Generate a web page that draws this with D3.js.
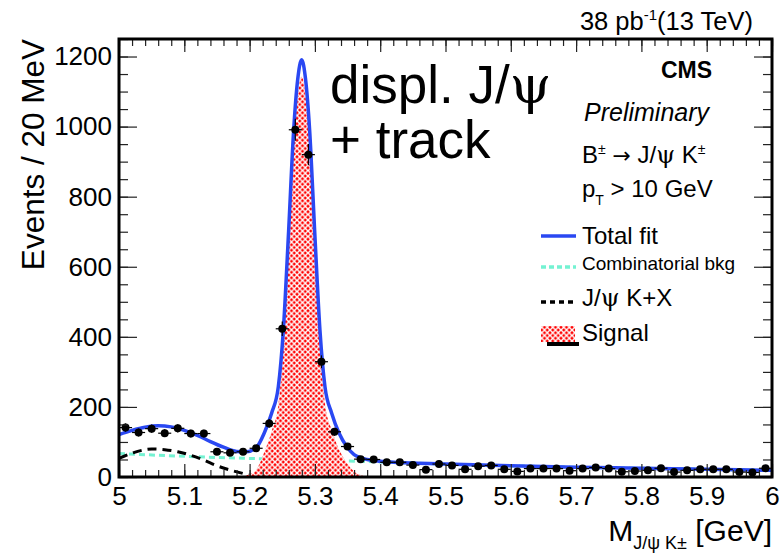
<!DOCTYPE html>
<html>
<head>
<meta charset="utf-8">
<script src="https://cdn.jsdelivr.net/npm/d3@7"></script>
<style>
body { margin: 0; background: #fff; }
text { font-family: "Liberation Sans", Arial, sans-serif; fill: #000; }
.greek { font-family: "DejaVu Serif", "Liberation Serif", serif; }
</style>
</head>
<body>
<div id="chart"></div>
<script>
// data (20 MeV bins)
const binCenters = [5.01,5.03,5.05,5.07,5.09,5.11,5.13,5.15,5.17,5.19,
  5.21,5.23,5.25,5.27,5.29,5.31,5.33,5.35,5.37,5.39,
  5.41,5.43,5.45,5.47,5.49,5.51,5.53,5.55,5.57,5.59,
  5.61,5.63,5.65,5.67,5.69,5.71,5.73,5.75,5.77,5.79,
  5.81,5.83,5.85,5.87,5.89,5.91,5.93,5.95,5.97,5.99];
const counts = [141,127,138,125,139,124,124,72,69,72,
  82,153,423,991,920,329,129,87,51,50,
  42,42,34,21,37,33,22,31,33,22,
  16,24,24,24,18,24,27,24,15,17,
  19,25,14,19,22,22,22,14,13,25];

// fit curves
const totalMass = [5.000,5.020,5.040,5.060,5.080,5.100,5.120,5.140,5.160,5.180,5.195,
  5.2107,5.2223,5.2337,5.2440,5.2517,5.2597,5.2675,5.2737,5.2797,5.2857,5.2919,
  5.2997,5.3077,5.3154,5.3257,5.3371,5.3487,5.360,5.370,5.380,5.400,5.450,5.500,
  5.600,5.700,5.800,5.900,6.000];
const totalVals = [121,133,142,146,143,133,119,101,85,73,72,
  85,125,182,258,420,700,991,1135,1191,1135,991,
  700,420,258,182,125,87,64,55,50,45,40,37,
  32,28,25,22,19];

const combMass = [5.0,5.1,5.2,5.3,5.4,5.5,5.6,5.7,5.8,5.9,6.0];
const combVals = [67,59,53,48,43,37,32,28,25,22,19];

const kxMass = [5.00,5.02,5.04,5.05,5.07,5.09,5.11,5.13,5.15,5.17,5.19,5.20,5.22];
const kxVals = [53,68,78,80,78,72,62,48,32,20,10,5,0];

const sigMass = [5.180,5.200,5.2107,5.2223,5.2337,5.2440,5.2517,5.2597,5.2675,5.2737,
  5.2797,5.2857,5.2919,5.2997,5.3077,5.3154,5.3257,5.3371,5.3487,5.360,5.370,5.380];
const sigVals = [0,8,22,70,130,206,368,648,940,1085,
  1143,1085,940,650,372,210,135,78,41,16,6,0];

const xMajor = [5,5.1,5.2,5.3,5.4,5.5,5.6,5.7,5.8,5.9,6];
const yMajor = [0,200,400,600,800,1000,1200];

const W = 784, H = 555;
const L = 119, R = 772, T = 39, B = 477;

const svg = d3.select('#chart').append('svg')
  .attr('width', W).attr('height', H)
  .style('background', '#fff');

const x = d3.scaleLinear().domain([5, 6]).range([L, R]);
const y = d3.scaleLinear().domain([0, 1250]).range([B, T]);

// hatch pattern for the signal
const pat = svg.append('defs').append('pattern')
  .attr('id', 'hatch')
  .attr('patternUnits', 'userSpaceOnUse')
  .attr('width', 5.5).attr('height', 5.5);
pat.append('rect').attr('width', 5.5).attr('height', 5.5).attr('fill', '#ff0000');
pat.append('path').attr('d', 'M0,0L5.5,5.5M5.5,0L0,5.5')
  .attr('stroke', '#fff').attr('stroke-width', 1.4);

svg.append('clipPath').attr('id', 'frame')
  .append('rect').attr('x', L).attr('y', T).attr('width', R - L).attr('height', B - T);

const plot = svg.append('g').attr('clip-path', 'url(#frame)');

const line = d3.line().x(d => x(d[0])).y(d => y(d[1])).curve(d3.curveMonotoneX);

// combinatorial background
plot.append('path')
  .attr('d', line(d3.zip(combMass, combVals)))
  .attr('fill', 'none').attr('stroke', '#74f2d2')
  .attr('stroke-width', 3).attr('stroke-dasharray', '6,4');

// J/psi K + X
plot.append('path')
  .attr('d', line(d3.zip(kxMass, kxVals)))
  .attr('fill', 'none').attr('stroke', '#000')
  .attr('stroke-width', 3).attr('stroke-dasharray', '9,6');

// signal
const area = d3.area().x(d => x(d[0])).y0(y(0)).y1(d => y(d[1])).curve(d3.curveMonotoneX);
plot.append('path')
  .attr('d', area(d3.zip(sigMass, sigVals)))
  .attr('fill', 'url(#hatch)');

// total fit
plot.append('path')
  .attr('d', line(d3.zip(totalMass, totalVals)))
  .attr('fill', 'none').attr('stroke', '#2a48f2')
  .attr('stroke-width', 3.5);

// data points
const pts = plot.append('g').selectAll('g')
  .data(d3.zip(binCenters, counts))
  .enter().append('g');
pts.append('line')
  .attr('x1', d => x(d[0] - 0.01)).attr('x2', d => x(d[0] + 0.01))
  .attr('y1', d => y(d[1])).attr('y2', d => y(d[1]))
  .attr('stroke', '#000').attr('stroke-width', 1.2);
pts.append('line')
  .attr('x1', d => x(d[0])).attr('x2', d => x(d[0]))
  .attr('y1', d => y(d[1] - Math.sqrt(d[1]))).attr('y2', d => y(d[1] + Math.sqrt(d[1])))
  .attr('stroke', '#000').attr('stroke-width', 1.2);
pts.append('circle')
  .attr('cx', d => x(d[0])).attr('cy', d => y(d[1]))
  .attr('r', 4).attr('fill', '#000');

// axes, ROOT style: ticks inside on all four sides
const xMinor = d3.range(0, 51).map(i => 5 + i * 0.02);
const yMinor = d3.range(0, 26).map(i => i * 50);

function styleAxis(g) {
  g.select('.domain').remove();
  g.selectAll('.tick line').attr('stroke', '#222').attr('stroke-width', 1.2);
}

svg.append('g').attr('transform', `translate(0,${B})`)
  .call(d3.axisBottom(x).tickValues(xMinor).tickSize(-7).tickFormat(''))
  .call(styleAxis);
svg.append('g').attr('transform', `translate(0,${B})`)
  .call(d3.axisBottom(x).tickValues(xMajor).tickSize(-13).tickPadding(10)
    .tickFormat(d3.format('~g')))
  .call(styleAxis)
  .selectAll('text').style('font-size', '26px').attr('fill', '#000');

svg.append('g').attr('transform', `translate(0,${T})`)
  .call(d3.axisTop(x).tickValues(xMinor).tickSize(-7).tickFormat(''))
  .call(styleAxis);
svg.append('g').attr('transform', `translate(0,${T})`)
  .call(d3.axisTop(x).tickValues(xMajor).tickSize(-13).tickFormat(''))
  .call(styleAxis);

svg.append('g').attr('transform', `translate(${L},0)`)
  .call(d3.axisLeft(y).tickValues(yMinor).tickSize(-9).tickFormat(''))
  .call(styleAxis);
svg.append('g').attr('transform', `translate(${L},0)`)
  .call(d3.axisLeft(y).tickValues(yMajor).tickSize(-18).tickPadding(7)
    .tickFormat(d3.format('d')))
  .call(styleAxis)
  .selectAll('text').style('font-size', '26px').attr('fill', '#000');

svg.append('g').attr('transform', `translate(${R},0)`)
  .call(d3.axisRight(y).tickValues(yMinor).tickSize(-9).tickFormat(''))
  .call(styleAxis);
svg.append('g').attr('transform', `translate(${R},0)`)
  .call(d3.axisRight(y).tickValues(yMajor).tickSize(-18).tickFormat(''))
  .call(styleAxis);

// frame
svg.append('rect')
  .attr('x', L).attr('y', T).attr('width', R - L).attr('height', B - T)
  .attr('fill', 'none').attr('stroke', '#000').attr('stroke-width', 3);

// axis titles
svg.append('text')
  .attr('transform', `translate(44,${T}) rotate(-90)`)
  .attr('text-anchor', 'end')
  .style('font-size', '31.5px')
  .text('Events / 20 MeV');

const xt = svg.append('text')
  .attr('x', R).attr('y', 541)
  .attr('text-anchor', 'end')
  .style('font-size', '30px');
xt.append('tspan').text('M');
xt.append('tspan').attr('dy', 8).style('font-size', '18px').text('J/\u03C8 K\u00B1');
xt.append('tspan').attr('dy', -8).text(' [GeV]');

// top-right header
const hdr = svg.append('text')
  .attr('x', 753).attr('y', 30)
  .attr('text-anchor', 'end')
  .style('font-size', '25.5px');
hdr.append('tspan').text('38 pb');
hdr.append('tspan').attr('dy', -10).style('font-size', '15px').text('-1');
hdr.append('tspan').attr('dy', 10).text('(13 TeV)');

// big labels
const big = svg.append('text').attr('x', 330).attr('y', 103).style('font-size', '53px');
big.append('tspan').text('displ. J/');
big.append('tspan').attr('class', 'greek').text('\u03C8');
svg.append('text').attr('x', 330).attr('y', 158)
  .style('font-size', '53px').text('+ track');

svg.append('text').attr('x', 712).attr('y', 78)
  .attr('text-anchor', 'end')
  .style('font-size', '23px').style('font-weight', 'bold').text('CMS');
svg.append('text').attr('x', 584).attr('y', 121)
  .style('font-size', '25px').style('font-style', 'italic').text('Preliminary');

const decay = svg.append('text').attr('x', 582).attr('y', 163).style('font-size', '24px');
decay.append('tspan').text('B');
decay.append('tspan').attr('dy', -9).style('font-size', '14px').text('\u00B1');
decay.append('tspan').attr('dy', 9).text(' ');
decay.append('tspan').style('font-family', '"DejaVu Sans", sans-serif').style('font-size', '22px').text('\u2192');
decay.append('tspan').text(' J/');
decay.append('tspan').attr('class', 'greek').text('\u03C8');
decay.append('tspan').text(' K');
decay.append('tspan').attr('dy', -9).style('font-size', '14px').text('\u00B1');

const ptcut = svg.append('text').attr('x', 582).attr('y', 197).style('font-size', '24px');
ptcut.append('tspan').text('p');
ptcut.append('tspan').attr('dy', 8).style('font-size', '14px').text('T');
ptcut.append('tspan').attr('dy', -8).text(' > 10 GeV');

// legend
const leg = svg.append('g');
leg.append('line').attr('x1', 541).attr('x2', 576).attr('y1', 236).attr('y2', 236)
  .attr('stroke', '#2a48f2').attr('stroke-width', 3.5);
leg.append('text').attr('x', 582).attr('y', 244).style('font-size', '24px').text('Total fit');

leg.append('line').attr('x1', 541).attr('x2', 576).attr('y1', 267).attr('y2', 267)
  .attr('stroke', '#74f2d2').attr('stroke-width', 3.5).attr('stroke-dasharray', '5,3');
leg.append('text').attr('x', 582).attr('y', 270).style('font-size', '19px').text('Combinatorial bkg');

leg.append('line').attr('x1', 541).attr('x2', 573).attr('y1', 302).attr('y2', 302)
  .attr('stroke', '#000').attr('stroke-width', 3.5).attr('stroke-dasharray', '5,4');
const lk = leg.append('text').attr('x', 582).attr('y', 306).style('font-size', '24px');
lk.append('tspan').text('J/');
lk.append('tspan').attr('class', 'greek').text('\u03C8');
lk.append('tspan').text(' K+X');

leg.append('rect').attr('x', 547).attr('y', 342).attr('width', 32).attr('height', 4).attr('fill', '#000');
leg.append('rect').attr('x', 541).attr('y', 326).attr('width', 34).attr('height', 16).attr('fill', 'url(#hatch)');
leg.append('text').attr('x', 582).attr('y', 341).style('font-size', '24px').text('Signal');
</script>
</body>
</html>
